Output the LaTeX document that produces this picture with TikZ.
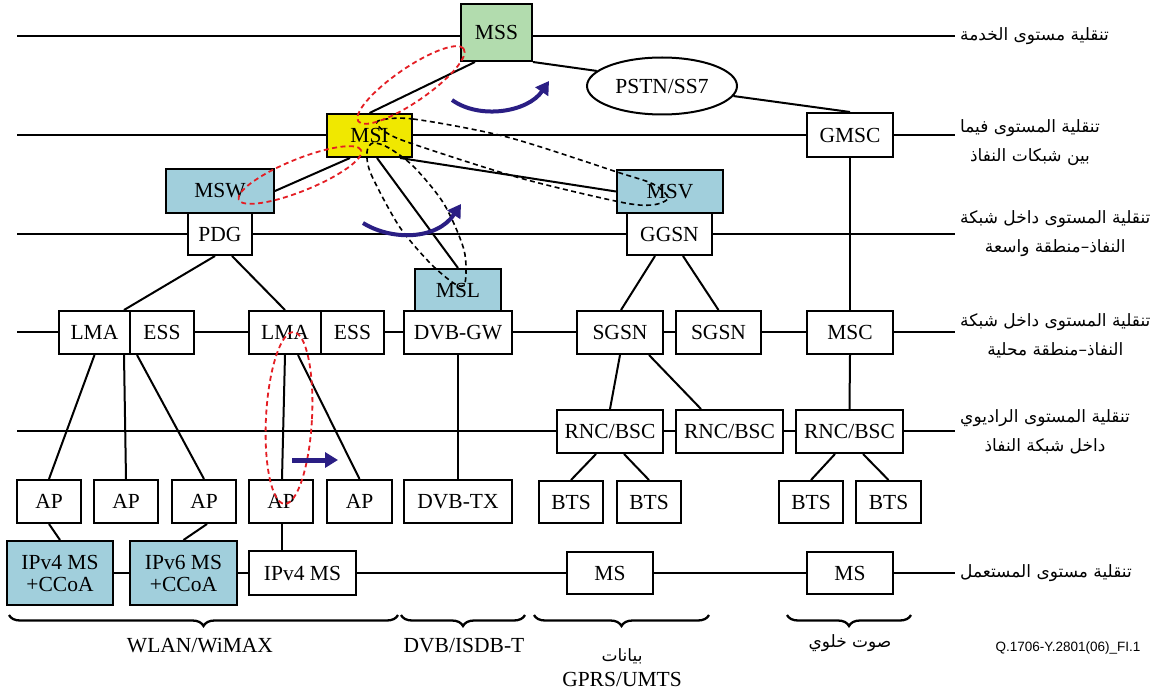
\documentclass[tikz,border=0pt]{standalone}
\usepackage{fontspec}
\setmainfont{Liberation Serif}
\newfontfamily\arabicfont[Script=Arabic]{DejaVu Sans}
\newfontfamily\figsans{Liberation Sans}
\TeXXeTstate=1
\usetikzlibrary{arrows.meta,shapes.geometric,decorations.pathreplacing}
\definecolor{mssgreen}{RGB}{178,220,174}
\definecolor{msiyellow}{RGB}{240,232,0}
\definecolor{msblue}{RGB}{161,207,220}
\definecolor{loopred}{RGB}{228,30,36}
\definecolor{movenavy}{RGB}{42,30,132}
\begin{document}
\begin{tikzpicture}[x=1pt,y=-1pt,
  font=\fontsize{21.5}{24}\selectfont,
  box/.style 2 args={draw=black, line width=2pt, fill=white, inner sep=0pt,
    minimum width=#1pt, minimum height=#2pt},
  layerline/.style={line width=2.8pt},
  link/.style={line width=2pt},
  loopdash/.style={black, line width=1.6pt, dash pattern=on 5pt off 3.5pt},
  reddash/.style={loopred, line width=1.8pt, dash pattern=on 5pt off 3.5pt},
  move/.style={movenavy, line width=4pt, -{Triangle[length=13pt,width=15pt]}},
  bracebar/.style={line width=2.3pt, decorate, decoration={brace,mirror,amplitude=11pt}},
  arabictext/.style={font=\arabicfont\fontsize{17}{29}\selectfont},
  arlabel/.style={anchor=west, align=center, inner sep=0pt, arabictext},
  caption/.style={align=center, inner sep=0pt}]
\useasboundingbox (0,0) rectangle (1159,695);
\fill[white] (0,0) rectangle (1159,695);

% mobility layers
\foreach \ly/\nm in {36/a,135/b,234/c,332/d,431/e,573/f}{
  \coordinate (lay\nm w) at (17,\ly);
  \coordinate (lay\nm e) at (955,\ly);
  \draw[layerline] (lay\nm w) -- (lay\nm e);
}

% service and interconnection nodes
\node[box={71}{57}, fill=mssgreen] (mss) at (496.5,32.5) {MSS};
\node[ellipse, draw, line width=2pt, fill=white, inner sep=0pt,
      minimum width=150pt, minimum height=57pt] (pstn) at (662,86) {PSTN/SS7};
\node[box={85}{43}, fill=msiyellow] (msi) at (369.5,135.5) {MSI};
\node[box={86}{44}] (gmsc) at (850,135) {GMSC};
\node[box={108}{44}, fill=msblue] (msw) at (220,191) {MSW};
\node[box={64}{42}] (pdg) at (220,234) {PDG};
\node[box={106}{43}, fill=msblue] (msv) at (670,191.5) {MSV};
\node[box={85}{42}] (ggsn) at (669.5,234) {GGSN};
\node[box={86}{42}, fill=msblue] (msl) at (458,290) {MSL};

% local access network
\node[box={71}{43}] (lmaa) at (94.5,332.5) {LMA};
\node[box={64}{43}] (essa) at (162,332.5) {ESS};
\node[box={72}{43}] (lmab) at (285,332.5) {LMA};
\node[box={63}{43}] (essb) at (352.5,332.5) {ESS};
\node[box={108}{43}] (dvbgw) at (458,332.5) {DVB-GW};
\node[box={86}{43}] (sgsna) at (620,332.5) {SGSN};
\node[box={85}{43}] (sgsnb) at (718.5,332.5) {SGSN};
\node[box={86}{43}] (msc) at (850,332.5) {MSC};

% radio level
\node[box={106}{43}] (rnca) at (610,431.5) {RNC/BSC};
\node[box={107}{43}] (rncb) at (729.5,431.5) {RNC/BSC};
\node[box={107}{43}] (rncc) at (849.5,431.5) {RNC/BSC};
\node[box={64}{43}] (apa) at (49,501.5) {AP};
\node[box={64}{43}] (apb) at (126,501.5) {AP};
\node[box={64}{43}] (apc) at (204,501.5) {AP};
\node[box={64}{43}] (apd) at (281,501.5) {AP};
\node[box={65}{43}] (ape) at (359.5,501.5) {AP};
\node[box={108}{43}] (dvbtx) at (458,501.5) {DVB-TX};
\node[box={64}{42}] (btsa) at (571,502) {BTS};
\node[box={64}{42}] (btsb) at (649,502) {BTS};
\node[box={64}{42}] (btsc) at (811,502) {BTS};
\node[box={65}{42}] (btsd) at (888.5,502) {BTS};

% terminals
\node[box={106}{64}, fill=msblue, align=center] (msfourc) at (60,573) {IPv4 MS\\[-2pt]+CCoA};
\node[box={107}{64}, fill=msblue, align=center] (mssixc) at (183.5,573) {IPv6 MS\\[-2pt]+CCoA};
\node[box={107}{44}] (msfour) at (302.5,573) {IPv4 MS};
\node[box={86}{42}] (msa) at (610,573) {MS};
\node[box={86}{42}] (msb) at (850,573) {MS};

% links
\draw[link] (msi.north) -- ([xshift=-21.5pt]mss.south);
\draw[link] (mss.south east) -- (pstn.167);
\draw[link] (pstn.-8) -- (gmsc.north);
\draw[link] ([xshift=-19.5pt]msi.south) -- (msw.east);
\draw[link] ([xshift=30.5pt]msi.south) -- (msv.west);
\draw[link] ([xshift=7.5pt]msi.south) -- (msl.north);
\draw[link] (gmsc.south) -- (msc.north);
\draw[link] ([xshift=-14.5pt]ggsn.south) -- ([xshift=1pt]sgsna.north);
\draw[link] ([xshift=13.5pt]ggsn.south) -- (sgsnb.north);
\draw[link] ([xshift=-5pt]pdg.south) -- ([xshift=-7pt]lmaa.north east);
\draw[link] ([xshift=12pt]pdg.south) -- (lmab.north);
\draw[link] (lmaa.south) -- (apa.north);
\draw[link] ([xshift=-7pt]lmaa.south east) -- (apb.north);
\draw[link] ([xshift=8pt]essa.south west) -- (apc.north);
\draw[link] (lmab.south) -- ([xshift=1pt]apd.north);
\draw[link] ([xshift=13pt]lmab.south) -- (ape.north);
\draw[link] (apa.south) -- (msfourc.north);
\draw[link] ([xshift=3pt]apc.south) -- (mssixc.north);
\draw[link] ([xshift=1pt]apd.south) -- ([xshift=1pt]apd.south |- msfour.north);
\draw[link] (dvbgw.south) -- (dvbtx.north);
\draw[link] (sgsna.south) -- (rnca.north);
\draw[link] ([xshift=29pt]sgsna.south) -- ([xshift=-28.5pt]rncb.north);
\draw[link] ([xshift=-14pt]rnca.south) -- (btsa.north);
\draw[link] ([xshift=14pt]rnca.south) -- (btsb.north);
\draw[link] (msc.south) -- (rncc.north);
\draw[link] ([xshift=-14.5pt]rncc.south) -- (btsc.north);
\draw[link] ([xshift=13.5pt]rncc.south) -- (btsd.north);

% handover loops
\draw[loopdash] plot[smooth cycle] coordinates {(378,121) (413,119) (507,137) (617,172)
  (653,184) (668,198) (652,205) (620,202) (520,178) (410,143) (384,131)};
\draw[loopdash] plot[smooth cycle] coordinates {(367,152) (371,174) (399,226) (430,263)
  (455,284) (465,283) (464,250) (444,204) (414,167) (389,148) (373,143)};
\draw[reddash, rotate around={34.5:(411,85)}] (411,85) ellipse [x radius=64pt, y radius=17pt];
\draw[reddash, rotate around={22:(300,175)}] (300,175) ellipse [x radius=66pt, y radius=16pt];
\draw[reddash, rotate around={-3:(289,418)}] (289,418) ellipse [x radius=23pt, y radius=86pt];

% movement arrows
\coordinate (mvas) at (452,100);
\coordinate (mvae) at (549,81);
\draw[move] (mvas) .. controls (480,120) and (528,112) .. (mvae);
\coordinate (mvbs) at (363,223);
\coordinate (mvbe) at (461,204);
\draw[move] (mvbs) .. controls (392,241) and (437,240) .. (mvbe);
\coordinate (mvcs) at (292,460);
\coordinate (mvce) at (338,460);
\draw[move, line width=5pt] (mvcs) -- (mvce);

% access technology groups
\coordinate (bra) at (9,615);   \coordinate (brb) at (398,615);
\coordinate (brc) at (401,615); \coordinate (brd) at (525,615);
\coordinate (bre) at (534,615); \coordinate (brf) at (709,615);
\coordinate (brg) at (787,615); \coordinate (brh) at (911,615);
\draw[bracebar] (bra) -- (brb);
\draw[bracebar] (brc) -- (brd);
\draw[bracebar] (bre) -- (brf);
\draw[bracebar] (brg) -- (brh);
\node[caption] (wlan) at (200,646) {WLAN/WiMAX};
\node[caption] (dvb) at (464,646) {DVB/ISDB-T};
\node[caption] (gprs) at (622,668) {{\arabicfont\fontsize{17}{20}\selectfont\beginR بيانات\endR}\\[1pt]GPRS/UMTS};
\node[caption, arabictext] (voice) at (850,643) {\beginR صوت خلوي\endR};
\node[caption, font=\figsans\fontsize{13.5}{16}\selectfont] (figid) at (1068,648) {Q.1706-Y.2801(06)\_FI.1};

% layer names
\node[arlabel] (nma) at (960,36) {\beginR تنقلية مستوى الخدمة\endR};
\node[arlabel] (nmb) at (960,143) {\beginR تنقلية المستوى فيما\endR\\\beginR بين شبكات النفاذ\endR};
\node[arlabel] (nmc) at (960,234) {\beginR تنقلية المستوى داخل شبكة\endR\\\beginR النفاذ–منطقة واسعة\endR};
\node[arlabel] (nmd) at (960,336) {\beginR تنقلية المستوى داخل شبكة\endR\\\beginR النفاذ–منطقة محلية\endR};
\node[arlabel] (nme) at (960,432) {\beginR تنقلية المستوى الراديوي\endR\\\beginR داخل شبكة النفاذ\endR};
\node[arlabel] (nmf) at (960,573) {\beginR تنقلية مستوى المستعمل\endR};
\end{tikzpicture}
\end{document}
